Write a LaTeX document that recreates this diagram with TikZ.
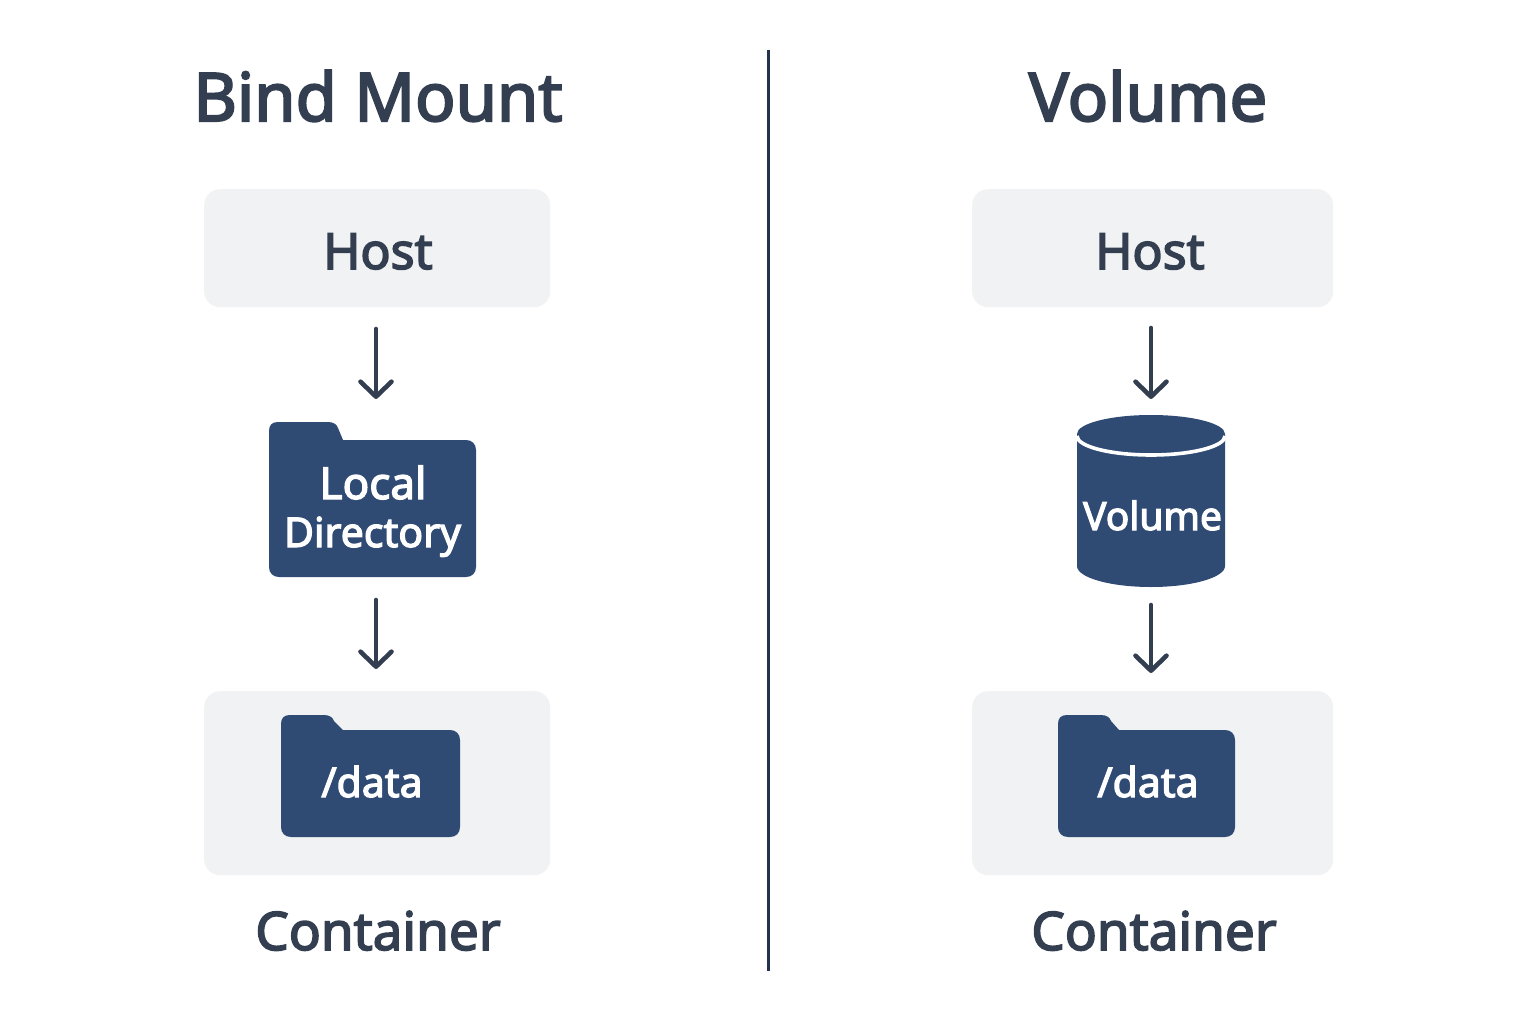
\documentclass[tikz,border=0pt]{standalone}
\usepackage{fontspec}
\setmainfont{Noto Sans}[FakeBold=3]
\usetikzlibrary{arrows.meta}
\definecolor{ink}{HTML}{333F50}
\definecolor{navy}{HTML}{2F4B74}
\definecolor{panel}{HTML}{F1F2F3}
\definecolor{rulecol}{HTML}{25324D}
\tikzset{
  x=1pt,y=-1pt,
  panelbox/.style={fill=panel,rounded corners=16pt,inner sep=0pt,anchor=north west},
  heading/.style={text=ink,font=\fontsize{67}{67}\selectfont,anchor=base,inner sep=0pt},
  label/.style={text=ink,font=\fontsize{50}{50}\selectfont,anchor=base,inner sep=0pt},
  inlabel/.style={text=white,font=\fontsize{41}{41}\selectfont,anchor=base,inner sep=0pt},
  flow/.style={draw=ink,line width=4.6pt,line cap=round,
    -{Straight Barb[length=15pt,width=31pt,line width=4.6pt,round]}},
  navyshape/.style={fill=navy,draw=none},
}
% left, right, tab top, body top, bottom, tab straight end, tab slope end
\newcommand{\folderpath}[7]{%
  \path[navyshape] (#1+9,#3) -- (#6,#3) .. controls (#6+6,#3) and (#6+9,#3+3) .. (#6+10,#3+6) -- (#7,#4)
    -- (#2-10,#4) .. controls (#2-4,#4) and (#2,#4+4) .. (#2,#4+10)
    -- (#2,#5-10) .. controls (#2,#5-4) and (#2-4,#5) .. (#2-10,#5)
    -- (#1+10,#5) .. controls (#1+4,#5) and (#1,#5-4) .. (#1,#5-10)
    -- (#1,#3+9) .. controls (#1,#3+3) and (#1+3,#3) .. (#1+9,#3) -- cycle;}
\begin{document}
\begin{tikzpicture}
\useasboundingbox (0,0) rectangle (1536,1024);
\fill[white] (0,0) rectangle (1536,1024);

% divider
\coordinate (divtop) at (768,50);
\coordinate (divbot) at (768,971);
\draw[rulecol,line width=3pt] (divtop) -- (divbot);

% panels
\node[panelbox,minimum width=346pt,minimum height=118pt] (hostL) at (204,189) {};
\node[panelbox,minimum width=346pt,minimum height=184pt] (contL) at (204,691) {};
\node[panelbox,minimum width=361pt,minimum height=118pt] (hostR) at (972,189) {};
\node[panelbox,minimum width=361pt,minimum height=184pt] (contR) at (972,691) {};

% headings and labels
\node[heading] (titleL) at (378,121) {Bind Mount};
\node[heading] (titleR) at (1148,121) {Volume};
\node[label] (hostLt) at (378,269) {Host};
\node[label] (hostRt) at (1150,269) {Host};
\node[label,font=\fontsize{53}{53}\selectfont] (contLt) at (378,950) {Container};
\node[label,font=\fontsize{53}{53}\selectfont] (contRt) at (1154,950) {Container};

% folders
\folderpath{269}{476}{422}{440}{577}{328}{343}
\folderpath{281}{460}{715}{730}{837}{324}{343}
\folderpath{1058}{1235}{715}{730}{837}{1101}{1119}

% cylinder
\path[navyshape] (1077,434) -- (1077,566) arc[start angle=180,end angle=360,x radius=74,y radius=-21]
  -- (1225,434) arc[start angle=0,end angle=180,x radius=74,y radius=-19] -- cycle;
\draw[white,line width=3.6pt] (1077,436) arc[start angle=180,end angle=360,x radius=74,y radius=-19];

% inner labels
\node[inlabel,font=\fontsize{44}{44}\selectfont] (localt) at (373,499) {Local};
\node[inlabel] (dirt) at (372.5,547) {Directory};
\node[inlabel,font=\fontsize{39}{39}\selectfont] (volt) at (1152.5,530) {Volume};
\node[inlabel] (dataL) at (372,797) {/data};
\node[inlabel] (dataR) at (1148,797) {/data};

% arrows
\coordinate (a1s) at (376,329); \coordinate (a1e) at (376,399);
\coordinate (a2s) at (376,600); \coordinate (a2e) at (376,669);
\coordinate (a3s) at (1151,328); \coordinate (a3e) at (1151,399);
\coordinate (a4s) at (1151,605); \coordinate (a4e) at (1151,673);
\draw[flow] (a1s) -- (a1e);
\draw[flow] (a2s) -- (a2e);
\draw[flow] (a3s) -- (a3e);
\draw[flow] (a4s) -- (a4e);
\end{tikzpicture}
\end{document}
